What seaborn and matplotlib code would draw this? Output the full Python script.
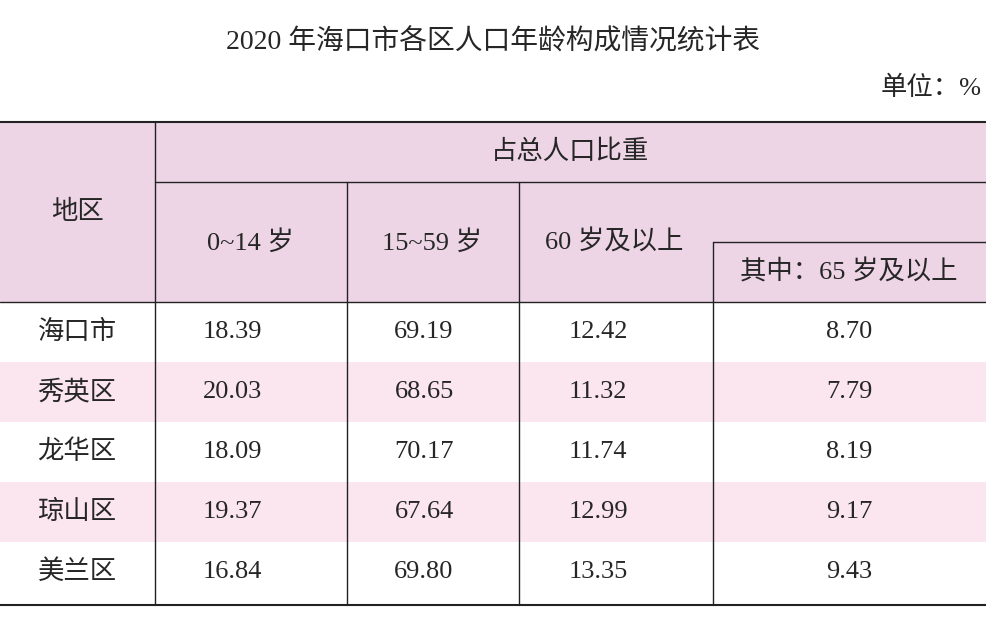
import matplotlib.pyplot as plt
import seaborn as sns
from matplotlib.patches import Rectangle

sns.set_style("white")
plt.rcParams['font.family'] = ['Liberation Serif', 'Noto Sans CJK SC', 'DejaVu Sans']

# datos de la tabla
regiones = ["海口市", "秀英区", "龙华区", "琼山区", "美兰区"]
edad_0_14 = ["18.39", "20.03", "18.09", "19.37", "16.84"]
edad_15_59 = ["69.19", "68.65", "70.17", "67.64", "69.80"]
edad_60 = ["12.42", "11.32", "11.74", "12.99", "13.35"]
edad_65 = ["8.70", "7.79", "8.19", "9.17", "9.43"]

fig = plt.figure(figsize=(9.86, 6.27), dpi=100)
ax = fig.add_axes([0, 0, 1, 1])
ax.set_xlim(0, 986)
ax.set_ylim(627, 0)
ax.axis("off")

cabecera = "#EDD5E6"
rosa = "#FBE6EF"
linea = "#222222"
fs = 19

ax.text(493, 42, "2020 年海口市各区人口年龄构成情况统计表", ha="center", va="center", fontsize=20)
ax.text(982, 88, "单位：%", ha="right", va="center", fontsize=fs)

ax.add_patch(Rectangle((0, 122), 986, 180, color=cabecera, lw=0))
for i in range(len(regiones)):
    if i % 2 == 1:
        ax.add_patch(Rectangle((0, 302 + 60 * i), 986, 60, color=rosa, lw=0))

# líneas
ax.plot([0, 986], [122, 122], color=linea, lw=1.5)
ax.plot([155, 986], [182, 182], color=linea, lw=1)
ax.plot([713, 986], [242, 242], color=linea, lw=1)
ax.plot([0, 986], [302, 302], color=linea, lw=1)
ax.plot([0, 986], [605, 605], color=linea, lw=1.5)
ax.plot([155, 155], [122, 605], color=linea, lw=1)
for x in (347, 519):
    ax.plot([x, x], [182, 605], color=linea, lw=1)
ax.plot([713, 713], [242, 605], color=linea, lw=1)

# cabeceras
ax.text(77, 212, "地区", ha="center", va="center", fontsize=fs)
ax.text(570, 152, "占总人口比重", ha="center", va="center", fontsize=fs)
ax.text(250, 242, "0~14 岁", ha="center", va="center", fontsize=fs)
ax.text(432, 242, "15~59 岁", ha="center", va="center", fontsize=fs)
ax.text(614, 242, "60 岁及以上", ha="center", va="center", fontsize=fs)
ax.text(849, 272, "其中：65 岁及以上", ha="center", va="center", fontsize=fs)

xs = [232, 424, 598, 849]
for i, reg in enumerate(regiones):
    y = 332 + 60 * i
    ax.text(77, y, reg, ha="center", va="center", fontsize=fs)
    for x, v in zip(xs, [edad_0_14[i], edad_15_59[i], edad_60[i], edad_65[i]]):
        ax.text(x, y, v, ha="center", va="center", fontsize=fs)

fig.savefig("out.png", dpi=100)
